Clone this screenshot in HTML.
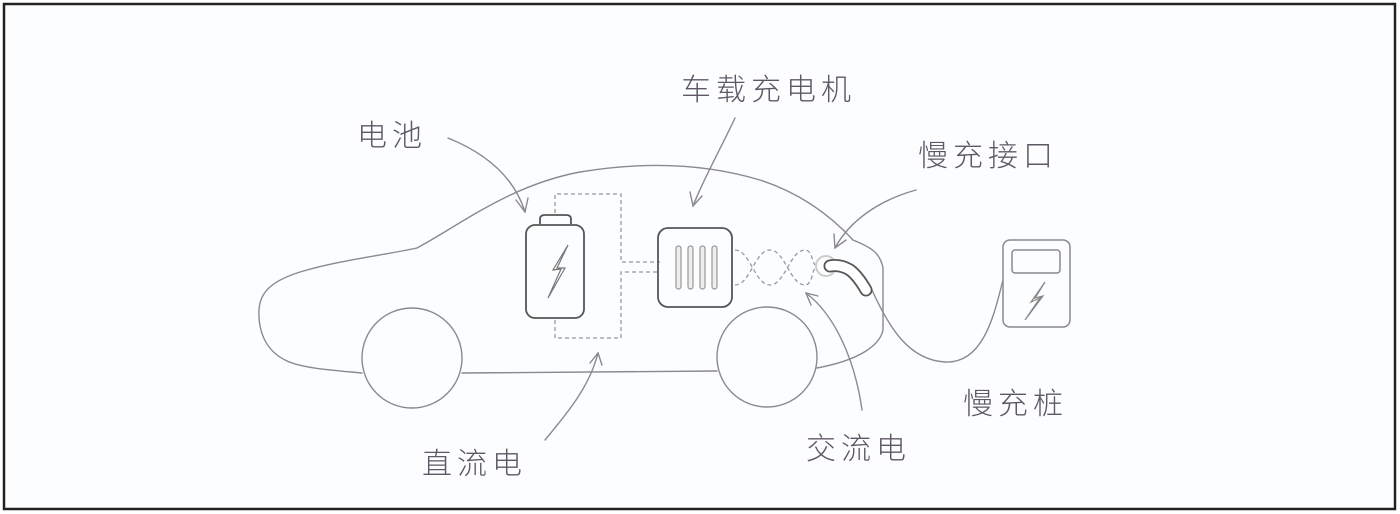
<!DOCTYPE html>
<html><head><meta charset="utf-8"><style>
html,body{margin:0;padding:0;background:#fff;}
.wrap{position:relative;width:1400px;height:514px;overflow:hidden;background:#fff;}
svg{position:absolute;left:0;top:0;}
text{font-family:"Liberation Sans","Noto Sans CJK SC",sans-serif;font-size:30px;font-weight:300;fill:#5e5866;letter-spacing:5px;}
</style></head><body><div class="wrap">
<svg width="1400" height="514" viewBox="0 0 1400 514">
<rect x="4" y="4" width="1391" height="505" fill="#fcfdfe" stroke="#222" stroke-width="2.5"/>
<g fill="none" stroke="#8a8a8e" stroke-width="1.4" stroke-linecap="round">
<!-- car body -->
<path d="M362,373 C330,370 300,368 285,360 C265,350 258,330 259,310 C260,290 275,280 300,272 C340,260 385,255 417,248 C460,225 510,185 580,172 C640,162 700,162 760,180 C800,193 830,215 853,240 C870,247 880,252 883,268 L883,330 C880,345 860,360 817,368"/>
<path d="M462,373 L717,371"/>
<circle cx="412" cy="358" r="50"/>
<circle cx="767" cy="357" r="50"/>
<!-- cable -->
<path d="M872,290 C890,330 910,360 945,362 C985,364 995,310 1003,280"/>
<!-- arrows -->
<path d="M448,138 C490,155 515,180 525,212"/><path d="M516,200 L525,212 L528,198"/>
<path d="M735,118 C720,150 703,180 693,206"/><path d="M690,192 L693,206 L702,196"/>
<path d="M916,190 C880,200 850,220 835,248"/><path d="M834,234 L835,248 L846,240"/>
<path d="M862,410 C855,360 835,315 806,293"/><path d="M818,296 L806,293 L811,305"/>
<path d="M545,440 C570,410 590,385 598,353"/><path d="M590,363 L598,353 L602,365"/>
</g>
<!-- dashed -->
<g fill="none" stroke="#999" stroke-width="1.3" stroke-dasharray="4,3">
<path d="M555,213 L555,194 L621,194 L621,262 L660,262"/>
<path d="M555,320 L555,338 L621,338 L621,272 L660,272"/>
<path d="M735,250 C750,250 755,285 770,285 C785,285 790,250 805,250 C812,250 812,262 815,265"/>
<path d="M735,285 C750,285 755,250 770,250 C785,250 790,285 805,285 C812,285 812,272 815,268"/>
</g>
<!-- battery -->
<g fill="none" stroke="#555" stroke-width="1.8">
<path d="M540,224 L540,219 Q540,215 545,215 L566,215 Q571,215 571,219 L571,224"/>
<rect x="526" y="225" width="58" height="93" rx="9"/>
</g>
<path d="M568,245 L553,270 L561,269 L548,298 L565,268 L557,268 Z" fill="none" stroke="#777" stroke-width="1.2"/>
<!-- charger unit -->
<rect x="658" y="228" width="74" height="79" rx="10" fill="none" stroke="#555" stroke-width="1.8"/>
<g fill="#eee" stroke="#999" stroke-width="1.2">
<rect x="676" y="246" width="5" height="43" rx="2.5"/><rect x="688" y="246" width="5" height="43" rx="2.5"/>
<rect x="700" y="246" width="5" height="43" rx="2.5"/><rect x="712" y="246" width="5" height="43" rx="2.5"/>
</g>
<!-- plug -->
<circle cx="826" cy="266" r="10" fill="none" stroke="#ccc" stroke-width="2"/>
<path d="M830,266 Q840,264 850,270 Q858,276 866,290" fill="none" stroke="#555" stroke-width="13" stroke-linecap="round"/>
<path d="M830,266 Q840,264 850,270 Q858,276 866,290" fill="none" stroke="#fff" stroke-width="9.5" stroke-linecap="round"/>
<!-- charging post -->
<rect x="1003" y="240" width="67" height="87" rx="7" fill="none" stroke="#8a8a8e" stroke-width="1.5"/>
<rect x="1012" y="250" width="48" height="23" rx="3" fill="none" stroke="#8a8a8e" stroke-width="1.5"/>
<path d="M1045,282 L1031,302 L1040,298 L1025,320 L1043,296 L1035,298 Z" fill="none" stroke="#888" stroke-width="1.2"/>
<!-- labels -->
<text x="357" y="146">电池</text>
<text x="681" y="100">车载充电机</text>
<text x="918" y="166">慢充接口</text>
<text x="963" y="414">慢充桩</text>
<text x="422" y="474">直流电</text>
<text x="806" y="459">交流电</text>
</svg></div></body></html>
